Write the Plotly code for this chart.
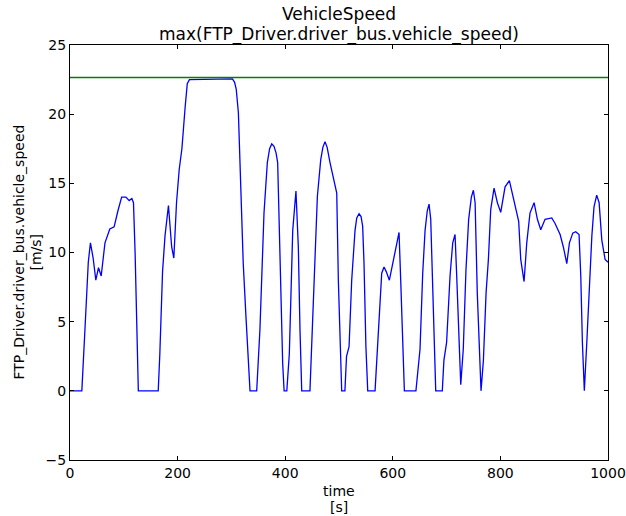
import plotly.graph_objects as go

time_s = [0, 22, 28, 34, 38, 43, 48, 53, 58, 65, 74, 82, 89, 96, 104, 110, 115, 118, 121, 124, 127,
          164, 167, 172, 176.6, 183, 189, 193, 198, 203, 208, 214, 218, 222, 302, 306, 309, 313, 316.5,
          322, 327, 334.6, 347, 353, 360.6, 366.8, 371, 375, 379, 383, 386, 390, 395.3, 398, 403,
          407.7, 414, 420, 424.4, 427.5, 430.7, 446, 452, 459.8, 466, 470, 474, 478, 483.3, 492.6,
          495.8, 498.8, 503, 505, 511, 514, 518.7, 523.6, 529.8, 533, 537.3, 541, 544, 546.5, 550,
          553.4, 567, 571.3, 576, 579.4, 583.7, 588, 593.6, 604, 611.6, 614.7, 619.6, 621.5, 643,
          650.6, 655.6, 660, 664, 667.4, 670.5, 674, 678, 679.8, 692, 695, 700, 706.4, 711.4, 715.7,
          718.8, 723.7, 726.3, 731, 736, 741, 746, 749.8, 753, 757, 761, 764, 768.4, 773.4, 777.7,
          782, 788.2, 794.4, 800.6, 808.7, 816.7, 824, 834, 837.8, 844, 849, 855, 862.6, 868.8, 875,
          883, 895.5, 901.6, 911, 917, 923.4, 928.3, 934.5, 940, 946.2, 949.4, 952.4, 956, 960.6,
          965.5, 970, 974, 979, 983.5, 988.5, 994.6, 1000]
speed_ms = [0, 0, 4.6, 9.3, 10.7, 9.6, 8.0, 8.9, 8.3, 10.7, 11.7, 11.85, 13.0, 14.0, 14.0, 13.75, 13.9, 13.6, 10.0, 3.9, 0,
            0, 2.7, 8.6, 11.2, 13.4, 10.4, 9.6, 13.6, 16.0, 17.5, 20.5, 22.2, 22.5, 22.55, 22.3, 21.8, 20.1, 15.5,
            9.2, 5.4, 0, 0, 4.4, 12.85, 16.5, 17.5, 17.85, 17.7, 17.2, 16.5, 9.2, 2.0, 0, 0,
            2.7, 11.6, 14.45, 10.4, 4.4, 0, 0, 6.8, 14.05, 16.7, 17.6, 18.0, 17.6, 16.5, 15.0,
            14.3, 8.0, 1.5, 0, 0, 2.5, 3.2, 8.0, 11.6, 12.5, 12.8, 12.6, 11.9, 9.2, 3.2,
            0, 0, 3.2, 6.8, 8.5, 8.95, 8.6, 8.0, 9.95, 11.45, 8.0, 2.0, 0, 0,
            3.0, 8.5, 11.6, 13.0, 13.5, 12.4, 7.1, 1.0, 0, 0, 2.2, 3.5, 8.3, 10.7, 11.3,
            8.3, 2.2, 0.45, 3.0, 8.75, 12.4, 14.0, 14.5, 13.6, 7.1, 2.2, 0, 2.2, 7.1, 9.5,
            13.1, 14.65, 13.6, 12.9, 14.75, 15.2, 14.05, 12.25, 9.5, 7.9, 10.7, 12.85, 13.6, 12.4, 11.65,
            12.4, 12.5, 12.1, 11.3, 10.4, 9.2, 10.7, 11.4, 11.5, 11.3, 8.3, 3.5, 0, 3.5,
            7.8, 11.2, 13.3, 14.15, 13.6, 10.9, 9.5, 9.3]
max_speed = 22.65

x_ticks = [0, 200, 400, 600, 800, 1000]
y_ticks = [-5, 0, 5, 10, 15, 20, 25]

title_lines = ["VehicleSpeed", "max(FTP_Driver.driver_bus.vehicle_speed)"]
x_label_lines = ["time", "[s]"]
y_label_lines = ["FTP_Driver.driver_bus.vehicle_speed", "[m/s]"]

font = "DejaVu Sans"
black = "black"

fig = go.Figure()
fig.add_trace(go.Scatter(x=time_s, y=speed_ms, mode="lines",
                         line=dict(color="#0000ff", width=1.3), showlegend=False))
fig.add_trace(go.Scatter(x=[0, 1000], y=[max_speed, max_speed], mode="lines",
                         line=dict(color="#008000", width=1.5), showlegend=False))

axis_common = dict(showgrid=False, zeroline=False, showline=True, linecolor=black,
                   linewidth=1, mirror="ticks", ticks="inside", ticklen=4, tickcolor=black,
                   automargin=False,
                   tickfont=dict(family=font, size=14, color=black))

annotations = [
    dict(text=title_lines[0], xref="paper", yref="paper", x=0.5, y=1, yanchor="middle",
         yshift=31, showarrow=False, font=dict(family=font, size=17, color=black)),
    dict(text=title_lines[1], xref="paper", yref="paper", x=0.5, y=1, yanchor="middle",
         yshift=11, showarrow=False, font=dict(family=font, size=17, color=black)),
    dict(text=x_label_lines[0], xref="paper", yref="paper", x=0.5, y=0, yanchor="middle",
         yshift=-31, showarrow=False, font=dict(family=font, size=14, color=black)),
    dict(text=x_label_lines[1], xref="paper", yref="paper", x=0.5, y=0, yanchor="middle",
         yshift=-47, showarrow=False, font=dict(family=font, size=14, color=black)),
    dict(text=y_label_lines[0], xref="paper", yref="paper", x=0, y=0.5, xanchor="center",
         xshift=-52, textangle=-90, showarrow=False, font=dict(family=font, size=14, color=black)),
    dict(text=y_label_lines[1], xref="paper", yref="paper", x=0, y=0.5, xanchor="center",
         xshift=-35, textangle=-90, showarrow=False, font=dict(family=font, size=14, color=black)),
]

fig.update_layout(
    width=626, height=516,
    margin=dict(l=70, r=18, t=45, b=56, autoexpand=False),
    paper_bgcolor="white", plot_bgcolor="white",
    font=dict(family=font, color=black),
    xaxis=dict(range=[0, 1000], tickvals=x_ticks, **axis_common),
    yaxis=dict(range=[-5, 25], tickvals=y_ticks, **axis_common),
    annotations=annotations,
)

fig.write_html("out.html", config={"displayModeBar": False},
               post_script="document.body.style.margin='0';document.body.style.overflow='hidden';")
